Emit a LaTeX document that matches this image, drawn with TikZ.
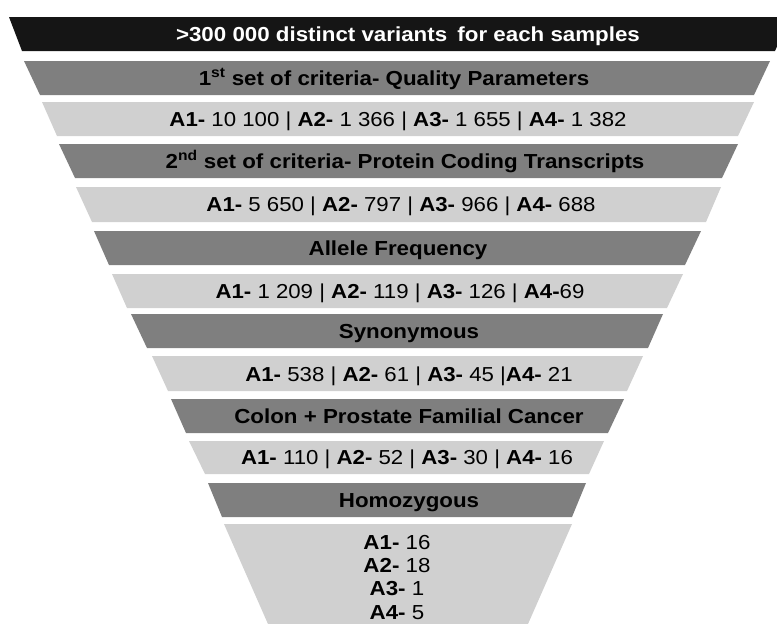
\documentclass[tikz,border=0pt]{standalone}
\usepackage{fontspec}
\setmainfont{Liberation Sans}
\newfontfamily\labelfont{Liberation Sans}[FakeStretch=1.1]
\definecolor{bandblack}{HTML}{151515}
\definecolor{banddark}{HTML}{7F7F7F}
\definecolor{bandlight}{HTML}{D0D0D0}
\tikzset{
  lbl/.style={anchor=base, inner sep=0pt, font=\labelfont\fontsize{20.3}{22}\selectfont\bfseries},
  cnt/.style={anchor=base, inner sep=0pt, font=\labelfont\fontsize{20.2}{22}\selectfont},
  fin/.style={anchor=base, inner sep=0pt, font=\labelfont\fontsize{20.3}{22}\selectfont}
}
\newcommand{\sm}[1]{\textbf{#1}}
\begin{document}
\begin{tikzpicture}[x=1pt,y=-1pt]
\useasboundingbox (0,0) rectangle (777,624);
\clip (0,0) rectangle (777,624);
% funnel bands: (left top) (right top) (right bottom) (left bottom)
\fill[bandblack] (9,17)   -- (790,17)  -- (775,51)  -- (22,51)  -- cycle;
\fill[banddark]  (24,61)  -- (770,61)  -- (754,95)  -- (40,95)  -- cycle;
\fill[bandlight] (42,102) -- (754,102) -- (738,136) -- (57,136) -- cycle;
\fill[banddark]  (59,144) -- (738,144) -- (722,178) -- (75,178) -- cycle;
\fill[bandlight] (76,187) -- (721,187) -- (706,222) -- (92,222) -- cycle;
\fill[banddark]  (94,231) -- (701,231) -- (685,265) -- (109,265) -- cycle;
\fill[bandlight] (112,274) -- (683,274) -- (667,308) -- (127,308) -- cycle;
\fill[banddark]  (131,314) -- (663,314) -- (648,348) -- (147,348) -- cycle;
\fill[bandlight] (152,356) -- (643,356) -- (627,391) -- (168,391) -- cycle;
\fill[banddark]  (171,399) -- (624,399) -- (608,433) -- (186,433) -- cycle;
\fill[bandlight] (189,441) -- (604,441) -- (589,474) -- (205,474) -- cycle;
\fill[banddark]  (208,483) -- (586,483) -- (572,517) -- (222,517) -- cycle;
\fill[bandlight] (224,524) -- (572,524) -- (528,624) -- (268,624) -- cycle;

% band texts
\node[lbl, text=white] (start) at (408,41) {>300 000 distinct variants\hspace{0.2em} for each samples};
\node[lbl] (crit1) at (394,85) {1\textsuperscript{st} set of criteria- Quality Parameters};
\node[cnt] (n1) at (398,126) {\sm{A1-} 10 100 | \sm{A2-} 1 366 | \sm{A3-} 1 655 | \sm{A4-} 1 382};
\node[lbl] (crit2) at (405,168) {2\textsuperscript{nd} set of criteria- Protein Coding Transcripts};
\node[cnt] (n2) at (401,211) {\sm{A1-} 5 650 | \sm{A2-} 797 | \sm{A3-} 966 | \sm{A4-} 688};
\node[lbl] (freq) at (398,255) {Allele Frequency};
\node[cnt] (n3) at (400,298) {\sm{A1-} 1 209 | \sm{A2-} 119 | \sm{A3-} 126 | \sm{A4-}69};
\node[lbl] (syn) at (409,338) {Synonymous};
\node[cnt] (n4) at (409,381) {\sm{A1-} 538 | \sm{A2-} 61 | \sm{A3-} 45 |\sm{A4-} 21};
\node[lbl] (fam) at (409,423) {Colon + Prostate Familial Cancer};
\node[cnt] (n5) at (407,464) {\sm{A1-} 110 | \sm{A2-} 52 | \sm{A3-} 30 | \sm{A4-} 16};
\node[lbl] (homo) at (409,507) {Homozygous};
\node[fin] (h1) at (397,549) {\sm{A1-} 16};
\node[fin] (h2) at (397,572) {\sm{A2-} 18};
\node[fin] (h3) at (397,595) {\sm{A3-} 1};
\node[fin] (h4) at (397,619) {\sm{A4-} 5};
\end{tikzpicture}
\end{document}
